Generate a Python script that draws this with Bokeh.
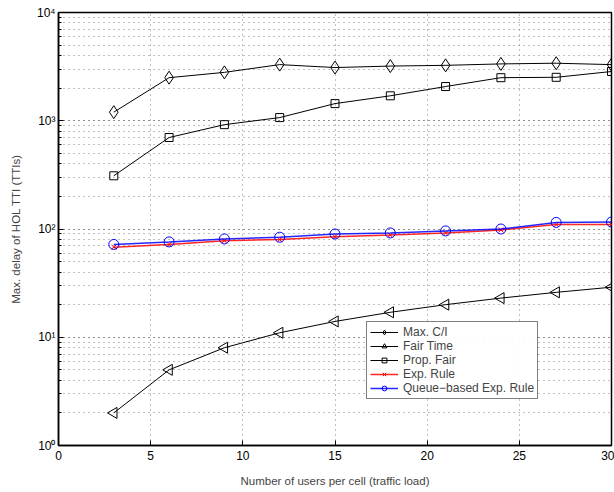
import numpy as np
from bokeh.plotting import figure
from bokeh.models import Legend, LegendItem, FixedTicker, LogTicker
from bokeh.embed import file_html
from bokeh.resources import INLINE

users = [3, 6, 9, 12, 15, 18, 21, 24, 27, 30]
max_ci = [1200, 2500, 2800, 3300, 3100, 3200, 3250, 3350, 3400, 3300]
fair_time = [2.0, 5.0, 8.0, 11.0, 14.0, 17.0, 20.0, 23.0, 26.0, 29.0]
prop_fair = [310, 700, 920, 1070, 1440, 1700, 2070, 2500, 2520, 2850]
exp_rule = [68, 72, 78, 80, 85, 88, 92, 98, 110, 110]
queue_exp = [72, 76, 81, 84, 90, 92, 96, 100, 115, 116]

x_ticks = [0, 5, 10, 15, 20, 25, 30]
y_ticks = [1, 10, 100, 1000, 10000]
y_tick_labels = ["10\u2070", "10\u00b9", "10\u00b2", "10\u00b3", "10\u2074"]

FONT = "Liberation Sans"

p = figure(width=614, height=492, y_axis_type="log", x_range=(0, 30), y_range=(1, 10000),
           output_backend="svg", toolbar_location=None,
           min_border_left=58, min_border_right=3, min_border_top=12, min_border_bottom=47)
p.outline_line_color = "black"
p.outline_line_width = 1.5
p.background_fill_color = "white"
p.border_fill_color = "white"

# axes
p.xaxis.ticker = FixedTicker(ticks=x_ticks)
p.yaxis.ticker = LogTicker(num_minor_ticks=10)
p.yaxis.major_label_overrides = {v: s for v, s in zip(y_ticks, y_tick_labels)}
for ax in (p.xaxis[0], p.yaxis[0]):
    ax.major_tick_in = 5
    ax.major_tick_out = 0
    ax.minor_tick_in = 3
    ax.minor_tick_out = 0
    ax.axis_line_color = "black"
    ax.axis_line_width = 1.5
    ax.major_label_text_font = FONT
    ax.major_label_text_font_size = "12px"
    ax.major_label_text_color = "black"
    ax.axis_label_text_font = FONT
    ax.axis_label_text_font_size = "11.5px"
    ax.axis_label_text_font_style = "normal"
p.xaxis.minor_tick_in = 0
p.xaxis.axis_label = "Number of users per cell (traffic load)"
p.yaxis.axis_label = "Max. delay of HOL TTI (TTIs)"
p.xaxis.axis_label_standoff = 12
p.yaxis.axis_label_standoff = 12
p.xaxis.major_label_standoff = 5
p.yaxis.major_label_standoff = 3

# grid
for g in (p.xgrid, p.ygrid):
    g.grid_line_color = "#808080"
    g.grid_line_dash = "1 4"
    g.grid_line_width = 1
p.ygrid.minor_grid_line_color = "#808080"
p.ygrid.minor_grid_line_dash = "1 4"

items = []
r1 = p.line(users, max_ci, color="black", line_width=1)
s1 = p.scatter(users, max_ci, marker="diamond", size=13, line_color="black", fill_color=None)
items.append(LegendItem(label="Max. C/I", renderers=[r1, s1]))
r2 = p.line(users, fair_time, color="black", line_width=1)
s2 = p.scatter(users, fair_time, marker="triangle", angle=np.pi / 2, size=11, line_color="black", fill_color=None)
items.append(LegendItem(label="Fair Time", renderers=[r2, s2]))
r3 = p.line(users, prop_fair, color="black", line_width=1)
s3 = p.scatter(users, prop_fair, marker="square", size=8, line_color="black", fill_color=None)
items.append(LegendItem(label="Prop. Fair", renderers=[r3, s3]))
r4 = p.line(users, exp_rule, color="red", line_width=1.5, alpha=0.85)
s4 = p.scatter(users, exp_rule, marker="x", size=7, line_color="red", line_width=1)
items.append(LegendItem(label="Exp. Rule", renderers=[r4, s4]))
r5 = p.line(users, queue_exp, color="blue", line_width=1.5, alpha=0.85)
s5 = p.scatter(users, queue_exp, marker="circle", size=10, line_color="blue", fill_color=None)
items.append(LegendItem(label="Queue\u2212based Exp. Rule", renderers=[r5, s5]))

legend = Legend(items=items, location=(308, 46))
legend.label_text_font = FONT
legend.label_text_font_size = "12px"
legend.label_height = 12
legend.glyph_height = 12
legend.glyph_width = 28
legend.spacing = 0
legend.padding = 3
legend.margin = 0
legend.border_line_color = "black"
legend.border_line_width = 1.5
legend.label_standoff = 5
p.add_layout(legend, "center")

open("out.html", "w").write(file_html(p, INLINE))
